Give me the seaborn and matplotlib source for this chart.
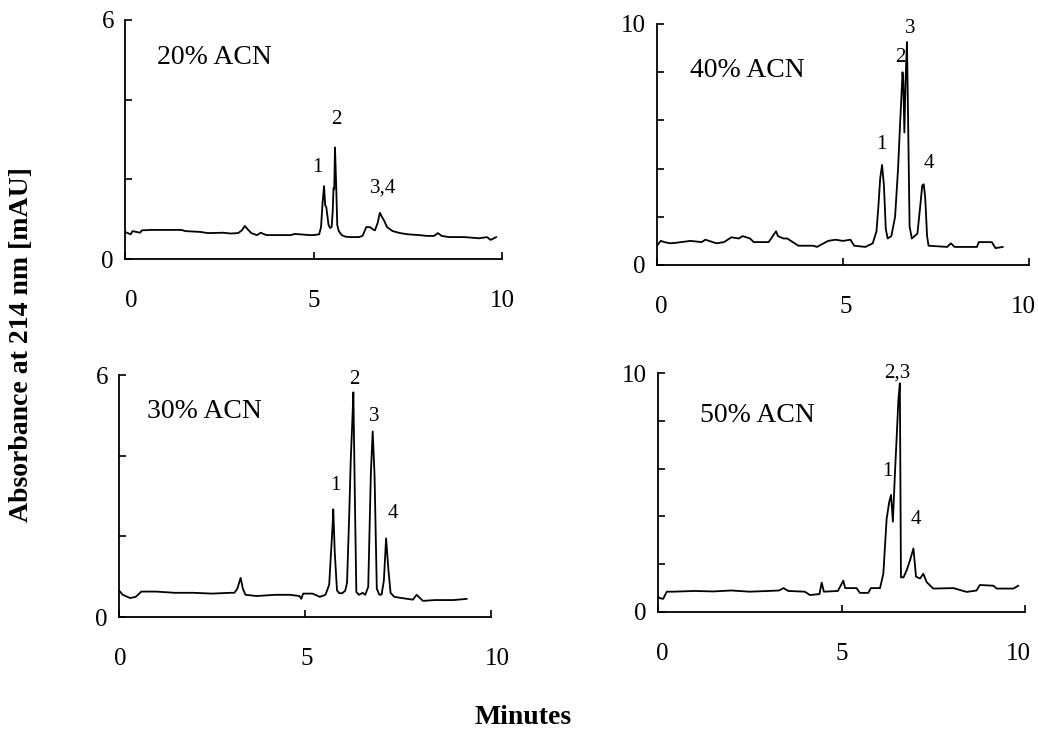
import matplotlib
matplotlib.use("Agg")
import matplotlib.pyplot as plt
import seaborn as sns
from matplotlib.ticker import FixedLocator, FixedFormatter
from matplotlib.transforms import ScaledTranslation

sns.set_style("ticks")
plt.rcParams["font.family"] = ["Liberation Serif", "DejaVu Serif"]
plt.rcParams["text.color"] = "black"

# Chromatogram traces: retention time (min) and absorbance at 214 nm (mAU)
t_20 = [0.0, 0.15, 0.2, 0.4, 0.45, 0.7, 1.5, 1.6, 2.0, 2.2, 2.6, 2.8, 3.0, 3.1, 3.18,
        3.25, 3.35, 3.5, 3.6, 3.7, 3.75, 4.0, 4.4, 4.5, 4.9, 5.0, 5.15, 5.2, 5.24, 5.28,
        5.31, 5.34, 5.4, 5.44, 5.48, 5.51, 5.53, 5.55, 5.57, 5.6, 5.63, 5.67, 5.75, 5.85,
        6.0, 6.2, 6.3, 6.4, 6.5, 6.58, 6.63, 6.7, 6.76, 6.82, 6.88, 6.95, 7.1, 7.3, 7.5,
        7.8, 8.0, 8.2, 8.3, 8.4, 8.6, 9.0, 9.4, 9.6, 9.7, 9.85]
a_20 = [0.68, 0.62, 0.7, 0.66, 0.72, 0.73, 0.73, 0.7, 0.68, 0.65, 0.66, 0.64, 0.65, 0.72, 0.83,
        0.75, 0.65, 0.6, 0.66, 0.62, 0.6, 0.6, 0.6, 0.63, 0.6, 0.6, 0.62, 0.8, 1.4, 1.83,
        1.35, 1.3, 0.85, 0.78, 0.8, 1.2, 1.78, 1.75, 2.8, 1.9, 0.85, 0.7, 0.6, 0.56,
        0.55, 0.55, 0.58, 0.8, 0.8, 0.74, 0.72, 0.9, 1.16, 1.05, 0.95, 0.8, 0.7, 0.65, 0.62,
        0.6, 0.58, 0.58, 0.65, 0.58, 0.55, 0.55, 0.52, 0.55, 0.48, 0.55]

t_40 = [0.0, 0.1, 0.2, 0.35, 0.5, 0.9, 1.2, 1.3, 1.6, 1.8, 2.0, 2.2, 2.3, 2.5, 2.6, 3.0,
        3.2, 3.25, 3.4, 3.5, 3.8, 4.2, 4.3, 4.6, 4.8, 5.0, 5.2, 5.3, 5.6, 5.8, 5.9, 5.95,
        6.0, 6.05, 6.1, 6.15, 6.2, 6.3, 6.4, 6.48, 6.53, 6.57, 6.6, 6.62, 6.65, 6.68,
        6.7, 6.72, 6.75, 6.79, 6.85, 7.0, 7.08, 7.13, 7.17, 7.21, 7.26, 7.3, 7.8, 7.9,
        8.0, 8.6, 8.65, 9.0, 9.1, 9.3]
a_40 = [0.8, 1.0, 0.95, 0.9, 0.92, 1.0, 0.95, 1.05, 0.9, 0.95, 1.15, 1.1, 1.2, 1.1, 0.95, 0.95,
        1.4, 1.2, 1.1, 1.1, 0.8, 0.8, 0.75, 1.0, 1.05, 1.0, 1.05, 0.8, 0.75, 0.9, 1.4, 2.4,
        3.6, 4.15, 3.3, 1.5, 1.1, 1.2, 2.0, 4.0, 5.7, 7.0, 8.0, 7.6, 5.5, 7.5,
        8.5, 9.25, 6.0, 1.6, 1.1, 1.3, 2.5, 3.3, 3.35, 2.8, 1.2, 0.8, 0.75, 0.9,
        0.75, 0.75, 0.95, 0.95, 0.7, 0.75]

t_30 = [0.0, 0.1, 0.3, 0.45, 0.6, 1.0, 1.5, 2.0, 2.5, 3.0, 3.1, 3.18, 3.27, 3.33, 3.4,
        3.7, 4.2, 4.6, 4.85, 4.9, 4.95, 5.2, 5.4, 5.55, 5.65, 5.7, 5.74, 5.76, 5.8, 5.86,
        5.92, 6.0, 6.08, 6.13, 6.19, 6.23, 6.27, 6.3, 6.34, 6.38, 6.45, 6.55, 6.62, 6.7,
        6.77, 6.82, 6.87, 6.93, 7.0, 7.06, 7.12, 7.18, 7.24, 7.3, 7.4, 7.6, 7.9, 8.0, 8.17,
        8.5, 9.0, 9.35]
a_30 = [0.66, 0.55, 0.47, 0.5, 0.63, 0.63, 0.6, 0.6, 0.58, 0.6, 0.6, 0.7, 0.97, 0.7, 0.55,
        0.52, 0.55, 0.55, 0.52, 0.45, 0.58, 0.58, 0.5, 0.55, 0.8, 1.6, 2.24, 2.67, 1.6, 0.66,
        0.59, 0.59, 0.65, 0.85, 2.57, 3.9, 4.8, 5.57, 3.0, 0.62, 0.55, 0.6, 0.55, 0.75,
        3.55, 4.6, 3.5, 0.7, 0.55, 0.56, 0.9, 1.95, 1.2, 0.6, 0.5, 0.47, 0.43, 0.55, 0.4,
        0.42, 0.42, 0.45]

t_50 = [0.0, 0.05, 0.14, 0.24, 0.41, 1.0, 1.5, 2.0, 2.5, 3.0, 3.3, 3.42, 3.55, 4.0, 4.14,
        4.4, 4.46, 4.52, 4.9, 5.05, 5.1, 5.41, 5.5, 5.73, 5.8, 6.05, 6.14, 6.23, 6.3, 6.35,
        6.4, 6.46, 6.5, 6.55, 6.59, 6.62, 6.69, 6.78, 6.87, 6.96, 7.03, 7.14, 7.23, 7.32,
        7.5, 8.05, 8.41, 8.68, 8.77, 9.14, 9.23, 9.68, 9.82]
a_50 = [0.64, 0.58, 0.55, 0.85, 0.85, 0.88, 0.86, 0.9, 0.85, 0.88, 0.9, 1.0, 0.88, 0.85, 0.71,
        0.75, 1.23, 0.85, 0.88, 1.31, 1.0, 1.0, 0.8, 0.8, 1.0, 1.0, 1.6, 3.9, 4.6, 4.9,
        3.78, 5.94, 7.2, 8.87, 9.57, 1.45, 1.45, 1.76, 2.18, 2.66, 1.48, 1.4, 1.6, 1.25,
        0.98, 1.0, 0.84, 0.9, 1.13, 1.1, 0.98, 0.98, 1.1]

panel_titles = ["20% ACN", "40% ACN", "30% ACN", "50% ACN"]
y_max = [6, 10, 6, 10]
traces = [(t_20, a_20), (t_40, a_40), (t_30, a_30), (t_50, a_50)]
x_tick_labels = ["0", "5", "10"]

# Peak identification labels (text, time, absorbance)
peak_labels = [
    [("1", 5.09, 2.29), ("2", 5.6, 3.49), ("3,4", 6.84, 1.78)],
    [("1", 6.02, 4.98), ("2", 6.53, 8.59), ("3", 6.8, 9.83), ("4", 7.31, 4.23)],
    [("1", 5.81, 3.25), ("2", 6.32, 5.9), ("3", 6.85, 4.96), ("4", 7.37, 2.56)],
    [("1", 6.24, 5.86), ("2,3", 6.51, 10.0), ("4", 7.03, 3.85)],
]
title_pos = [(0.85, 5.07), (0.89, 8.09), (0.75, 5.09), (1.14, 8.24)]

W, H = 1038, 731
# axes rectangles in pixels: left, right, top, bottom
rects_px = [(125, 502, 20, 259), (657, 1029, 24, 265),
            (119, 491, 375, 617), (658, 1025, 373, 612)]
# horizontal nudges (pixels) of the x tick labels 0, 5, 10 in each panel
x_label_shift = [(6, 0, 0), (4, 3, -6), (1, 2, 6), (4, 0, -7)]

fig = plt.figure(figsize=(W / 100, H / 100), dpi=100)
fig.patch.set_facecolor("white")

for i in range(4):
    l, r, t, b = rects_px[i]
    ax = fig.add_axes([l / W, 1 - b / H, (r - l) / W, (b - t) / H])
    ax.set_facecolor("white")
    x, y = traces[i]
    sns.lineplot(x=x, y=y, ax=ax, color="black", linewidth=1.3,
                 estimator=None, sort=False)
    ax.set_xlim(0, 10)
    ax.set_ylim(0, y_max[i])
    for s in ("top", "right"):
        ax.spines[s].set_visible(False)
    for s in ("left", "bottom"):
        ax.spines[s].set_linewidth(1.3)
        ax.spines[s].set_color("black")
    yt = list(range(0, y_max[i] + 1, 2))
    ax.yaxis.set_major_locator(FixedLocator(yt))
    ax.yaxis.set_major_formatter(FixedFormatter(
        [str(v) if v in (0, y_max[i]) else "" for v in yt]))
    ax.xaxis.set_major_locator(FixedLocator([0, 5, 10]))
    ax.xaxis.set_major_formatter(FixedFormatter(x_tick_labels))
    ax.tick_params(axis="both", direction="in", length=5, width=1.2,
                   labelsize=18, colors="black")
    ax.tick_params(axis="x", pad=22)
    ax.tick_params(axis="y", pad=8)
    for lbl, dx in zip(ax.get_xticklabels(), x_label_shift[i]):
        lbl.set_transform(lbl.get_transform() +
                          ScaledTranslation(dx / 100, 0, fig.dpi_scale_trans))
    ax.set_xlabel("")
    ax.set_ylabel("")
    tx, ty = title_pos[i]
    ax.text(tx, ty, panel_titles[i], fontsize=20, ha="left", va="center",
            color="black")
    for lab, px, py in peak_labels[i]:
        ax.text(px, py, lab, fontsize=15, ha="center", va="center",
                color="black", clip_on=False)

fig.text(22 / W, 1 - 345 / H, "Absorbance at 214 nm [mAU]", rotation=90,
         fontsize=20, fontweight="bold", ha="center", va="center", color="black")
fig.text(523 / W, 1 - 718 / H, "Minutes", fontsize=20, fontweight="bold",
         ha="center", va="center", color="black")

fig.savefig("out.png", dpi=100, facecolor="white")
